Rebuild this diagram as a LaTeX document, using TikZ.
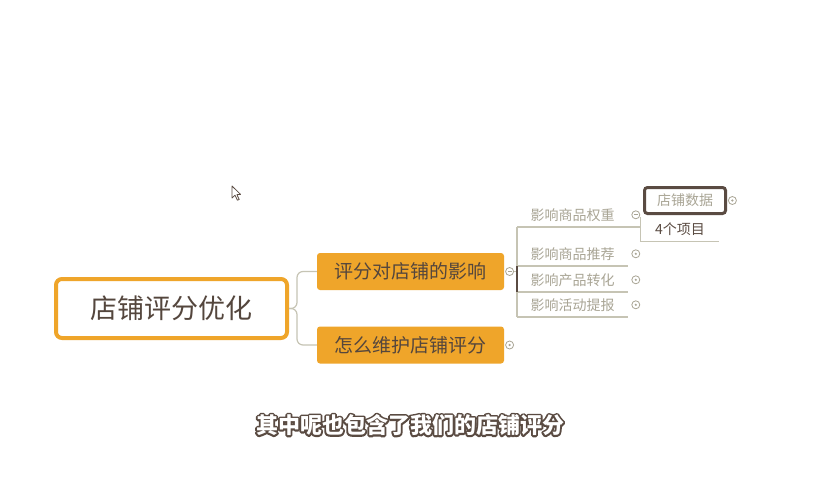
\documentclass[tikz,border=0pt]{standalone}
\usepackage{fontspec}
\setmainfont{Noto Sans CJK SC}
\usetikzlibrary{positioning, calc}
\definecolor{mmorange}{HTML}{EFA52A}
\definecolor{mmtext}{HTML}{54463D}
\definecolor{mmline}{HTML}{C6C4B4}
\definecolor{mmleaf}{HTML}{A9A595}
\definecolor{mmdark}{HTML}{5A4B42}
\newcommand{\outlinetext}[1]{\special{pdf:literal direct 2 Tr 3.6 w 1 j}#1\special{pdf:literal direct 0 Tr}}
\tikzset{
  rootbox/.style={draw=mmorange, line width=4pt, fill=white, rounded corners=6pt,
    minimum width=231pt, minimum height=59pt, text=mmtext, font=\fontsize{27}{27}\selectfont},
  topicbox/.style={fill=mmorange, rounded corners=3pt, minimum width=187pt,
    minimum height=37pt, text=mmtext, font=\fontsize{19}{19}\selectfont},
  leaf/.style={minimum width=111pt, minimum height=24pt, inner sep=0pt,
    text=mmleaf, font=\fontsize{14}{14}\selectfont},
  link/.style={draw=mmline, line width=1.2pt},
  openmark/.style={circle, draw=mmleaf, fill=white, line width=0.8pt, minimum size=8pt, inner sep=0pt,
    path picture={\draw[mmleaf, line width=0.8pt] ([xshift=2pt]path picture bounding box.west) -- ([xshift=-2pt]path picture bounding box.east);}},
  dotmark/.style={circle, draw=mmleaf, fill=white, line width=0.8pt, minimum size=8pt, inner sep=0pt,
    path picture={\fill[mmleaf] (path picture bounding box.center) circle (1.2pt);}},
  captext/.style={font=\fontsize{22}{22}\selectfont\bfseries}
}
\begin{document}
\begin{tikzpicture}[x=1pt, y=-1pt]
  \useasboundingbox[fill=white] (0,0) rectangle (820,480);
  % Main topic and branches
  \node[rootbox] (root) at (171.5,308.5) {店铺评分优化};
  \node[topicbox] (effect) at (410.5,271.5) {评分对店铺的影响};
  \node[topicbox] (keep) at (410.5,345) {怎么维护店铺评分};
  \draw[link, rounded corners=6pt] (root.east) -- ++(8,0) |- (effect.west);
  \draw[link, rounded corners=6pt] (root.east) -- ++(8,0) |- (keep.west);
  \node[openmark, right=1pt of effect] (effectmark) {};
  \node[dotmark, right=1pt of keep] (keepmark) {};
  % Sub topics
  \node[leaf, anchor=south west] (weight) at (517,227) {影响商品权重};
  \node[leaf, anchor=south west] (recommend) at (517,266) {影响商品推荐};
  \node[leaf, anchor=south west] (convert) at (517,292) {影响产品转化};
  \node[leaf, anchor=south west] (activity) at (517,317) {影响活动提报};
  \draw[link] (effectmark.east) -- (effectmark.east -| weight.west);
  \draw[link] (weight.south west) -- (activity.south west);
  \foreach \n in {recommend, convert, activity}
    \draw[link] (\n.south west) -- (\n.south east);
  \draw[mmdark, line width=1.2pt] (recommend.south west) -- (convert.south west);
  \node[openmark, right=3pt of weight] (weightmark) {};
  \node[dotmark, right=3pt of recommend] (recommendmark) {};
  \node[dotmark, right=3pt of convert] (convertmark) {};
  \node[dotmark, right=3pt of activity] (activitymark) {};
  % Shop data
  \node[leaf, minimum width=78pt, text=mmdark] (items) at (680,229) {4个项目};
  \draw[link] (weight.south west) -- (weight.south west -| items.west);
  \draw[link] (items.north west) -- (items.south west) -- (items.south east);
  \node[draw=mmdark, line width=3pt, fill=white, rounded corners=3pt, minimum width=81pt,
    minimum height=26pt, inner sep=0pt, text=mmleaf, font=\fontsize{14}{14}\selectfont]
    (shopdata) at (685,200.5) {店铺数据};
  \node[dotmark, right=1pt of shopdata] (shopdatamark) {};
  % Mouse pointer
  \draw[mmdark, fill=white, line width=0.8pt, line join=round]
    (232,186) -- (232,198) -- (235,195.2) -- (237.4,200.2) -- (239.2,199.4)
    -- (236.9,194.6) -- (240.6,194.4) -- cycle;
  % Subtitle with outline
  \node[captext, text=mmdark] (captionedge) at (410,425) {\outlinetext{其中呢也包含了我们的店铺评分}};
  \node[captext, text=white] (caption) at (captionedge) {其中呢也包含了我们的店铺评分};
\end{tikzpicture}
\end{document}
